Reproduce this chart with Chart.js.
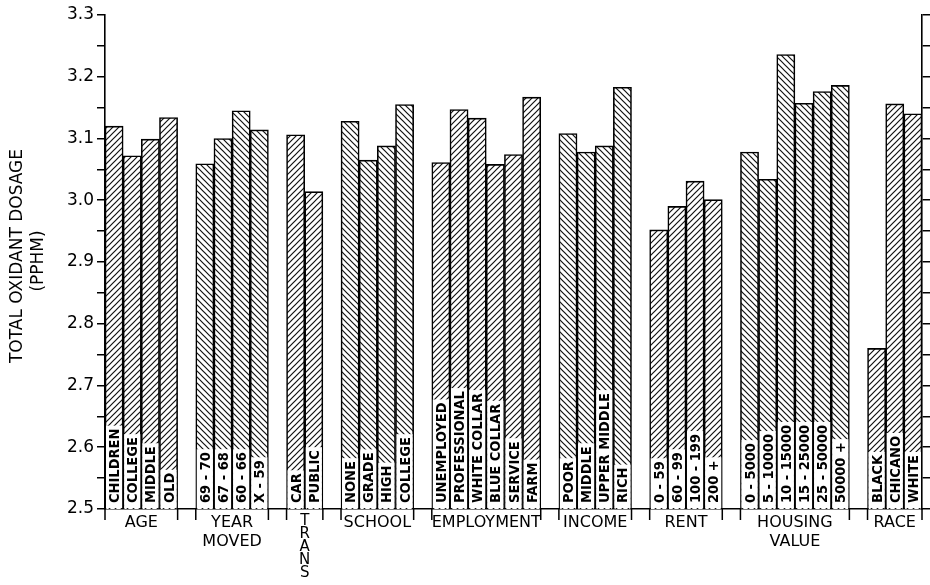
<!DOCTYPE html>
<html><head><meta charset="utf-8">
<script src="https://cdn.jsdelivr.net/npm/chart.js@4.4.1/dist/chart.umd.min.js"></script>
<style>html,body{margin:0;padding:0;background:#fff}#wrap{width:930px;height:585px}</style>
</head><body><div id="wrap"><canvas id="c" width="930" height="585"></canvas></div>
<script>
// ---- data ----
const groupTitles = [["AGE"],["YEAR","MOVED"],["T","R","A","N","S"],["SCHOOL"],["EMPLOYMENT"],["INCOME"],["RENT"],["HOUSING","VALUE"],["RACE"]];
const ageLabels = ["CHILDREN","COLLEGE","MIDDLE","OLD"];
const ageValues = [3.120,3.072,3.099,3.134];
const yearLabels = ["69 - 70","67 - 68","60 - 66","X - 59"];
const yearValues = [3.059,3.100,3.145,3.114];
const transLabels = ["CAR","PUBLIC"];
const transValues = [3.106,3.014];
const schoolLabels = ["NONE","GRADE","HIGH","COLLEGE"];
const schoolValues = [3.128,3.065,3.088,3.155];
const employmentLabels = ["UNEMPLOYED","PROFESSIONAL","WHITE COLLAR","BLUE COLLAR","SERVICE","FARM"];
const employmentValues = [3.061,3.147,3.133,3.058,3.074,3.167];
const incomeLabels = ["POOR","MIDDLE","UPPER MIDDLE","RICH"];
const incomeValues = [3.108,3.078,3.088,3.183];
const rentLabels = ["0 - 59","60 - 99","100 - 199","200 +"];
const rentValues = [2.952,2.990,3.031,3.001];
const housingLabels = ["0 - 5000","5 - 10000","10 - 15000","15 - 25000","25 - 50000","50000 +"];
const housingValues = [3.078,3.034,3.236,3.157,3.176,3.186];
const raceLabels = ["BLACK","CHICANO","WHITE"];
const raceValues = [2.760,3.156,3.140];
const yMin = 2.5, yMax = 3.3, yStep = 0.05;
const yTitle = ["TOTAL OXIDANT DOSAGE","(PPHM)"];

const groupBarLabels = [ageLabels,yearLabels,transLabels,schoolLabels,employmentLabels,incomeLabels,rentLabels,housingLabels,raceLabels];
const groupBarValues = [ageValues,yearValues,transValues,schoolValues,employmentValues,incomeValues,rentValues,housingValues,raceValues];

// ---- build slots (one empty slot between groups) ----
const slotLabels = [], slotValues = [], slotGroup = [], groupRanges = [];
groupBarValues.forEach((vals, g) => {
  if (g > 0) { slotLabels.push(''); slotValues.push(null); slotGroup.push(-1); }
  const start = slotLabels.length;
  vals.forEach((v, i) => { slotLabels.push(groupBarLabels[g][i]); slotValues.push(v); slotGroup.push(g); });
  groupRanges.push([start, slotLabels.length - 1]);
});

const canvas = document.getElementById('c');
const mainCtx = canvas.getContext('2d');
function hatch(dir) {
  const s = 6;
  const c = document.createElement('canvas'); c.width = s; c.height = s;
  const x = c.getContext('2d');
  x.fillStyle = '#fff'; x.fillRect(0, 0, s, s);
  x.strokeStyle = '#111'; x.lineWidth = 1.2;
  x.beginPath();
  if (dir > 0) {
    x.moveTo(-1, s + 1); x.lineTo(s + 1, -1);
    x.moveTo(-1, 1); x.lineTo(1, -1);
    x.moveTo(s - 1, s + 1); x.lineTo(s + 1, s - 1);
  } else {
    x.moveTo(-1, -1); x.lineTo(s + 1, s + 1);
    x.moveTo(s - 1, -1); x.lineTo(s + 1, 1);
    x.moveTo(-1, s - 1); x.lineTo(1, s + 1);
  }
  x.stroke();
  return mainCtx.createPattern(c, 'repeat');
}
const fwd = hatch(1), back = hatch(-1);

const BAR_FONT = "bold 14.5px 'DejaVu Sans Condensed', 'DejaVu Sans', sans-serif";
const GROUP_FONT = "16px 'DejaVu Sans', sans-serif";
const TITLE_FONT = "17px 'DejaVu Sans', sans-serif";

const annot = {
  id: 'annot',
  afterDatasetsDraw(chart) {
    const ctx = chart.ctx;
    const meta = chart.getDatasetMeta(0);
    const base = chart.scales.y.getPixelForValue(yMin);
    ctx.save();
    ctx.font = BAR_FONT;
    meta.data.forEach((el, i) => {
      if (slotValues[i] == null) return;
      const txt = slotLabels[i];
      const w = ctx.measureText(txt).width;
      const half = el.width / 2;
      ctx.fillStyle = '#fff';
      ctx.fillRect(el.x - half + 1, base - 6 - w - 3, el.width - 2, w + 8);
      ctx.save();
      ctx.translate(el.x + 5, base - 6);
      ctx.rotate(-Math.PI / 2);
      ctx.fillStyle = '#000';
      ctx.textAlign = 'left';
      ctx.textBaseline = 'alphabetic';
      ctx.fillText(txt, 0, 0);
      ctx.restore();
    });
    ctx.restore();
  },
  afterDraw(chart) {
    const ctx = chart.ctx;
    const xs = chart.scales.x;
    const base = chart.scales.y.getPixelForValue(yMin);
    const slot = (xs.right - xs.left) / slotLabels.length;
    ctx.save();
    ctx.strokeStyle = '#000'; ctx.lineWidth = 1.5;
    groupRanges.forEach((r, g) => {
      const l = xs.getPixelForValue(r[0]) - slot / 2;
      const rt = xs.getPixelForValue(r[1]) + slot / 2;
      ctx.beginPath();
      ctx.moveTo(l, base); ctx.lineTo(l, base + 11);
      ctx.moveTo(rt, base); ctx.lineTo(rt, base + 11);
      ctx.stroke();
      const cx = (l + rt) / 2;
      ctx.fillStyle = '#000';
      ctx.textAlign = 'center';
      ctx.textBaseline = 'middle';
      const lines = groupTitles[g];
      if (lines.length > 2) {
        ctx.font = "15px 'DejaVu Sans', sans-serif";
        lines.forEach((t, k) => ctx.fillText(t, cx, base + 12 + k * 13));
      } else {
        ctx.font = GROUP_FONT;
        lines.forEach((t, k) => ctx.fillText(t, cx, base + 14 + k * 19));
      }
    });
    // y title
    ctx.font = TITLE_FONT;
    ctx.textAlign = 'center';
    ctx.textBaseline = 'middle';
    [[18, yTitle[0], 256], [39, yTitle[1], 261]].forEach(([x, t, cy]) => {
      ctx.save(); ctx.translate(x, cy); ctx.rotate(-Math.PI / 2); ctx.fillText(t, 0, 0); ctx.restore();
    });
    ctx.restore();
  }
};

new Chart(canvas, {
  type: 'bar',
  data: {
    labels: slotLabels,
    datasets: [{
      data: slotValues,
      backgroundColor: slotGroup.map(g => g < 0 ? 'rgba(0,0,0,0)' : (g % 2 === 0 ? fwd : back)),
      borderColor: '#000',
      borderWidth: 1.6,
      borderSkipped: 'start',
      barPercentage: 1,
      categoryPercentage: 1
    }]
  },
  options: {
    responsive: false,
    animation: false,
    events: [],
    layout: { padding: { top: 15, left: 0, right: 0, bottom: 0 } },
    plugins: { legend: { display: false }, tooltip: { enabled: false }, title: { display: false } },
    scales: {
      x: {
        type: 'category', offset: true,
        grid: { display: false },
        ticks: { display: false },
        border: { display: true, color: '#000', width: 1.6 },
        afterFit: s => { s.height = 76; }
      },
      y: {
        position: 'left', min: yMin, max: yMax,
        ticks: {
          stepSize: yStep, autoSkip: false, color: '#000', padding: 3,
          font: { family: "'DejaVu Sans', sans-serif", size: 17 },
          callback: v => { const k = Math.round(v * 100); return k % 10 === 0 ? (k / 100).toFixed(1) : ''; }
        },
        grid: { drawOnChartArea: false, drawTicks: true, tickLength: 8, color: '#000', lineWidth: 1.5 },
        border: { display: true, color: '#000', width: 1.6 },
        afterFit: s => { s.width = 105; }
      },
      y2: {
        position: 'right', min: yMin, max: yMax,
        ticks: { stepSize: yStep, autoSkip: false, padding: 0, callback: () => '' },
        grid: { drawOnChartArea: false, drawTicks: true, tickLength: 8, color: '#000', lineWidth: 1.5 },
        border: { display: true, color: '#000', width: 1.6 },
        afterFit: s => { s.width = 8; }
      }
    }
  },
  plugins: [annot]
});
</script>
</body></html>
